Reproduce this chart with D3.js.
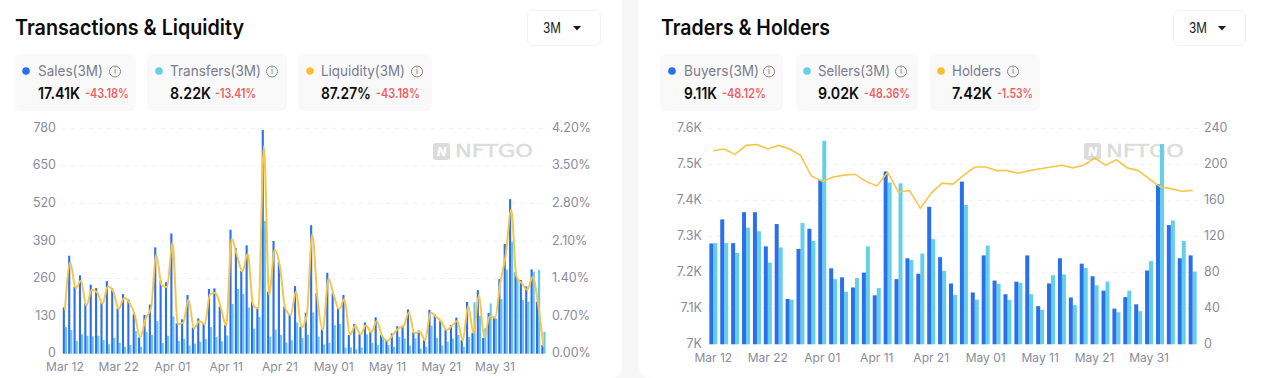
<!DOCTYPE html>
<html>
<head>
<meta charset="utf-8">
<script src="https://cdn.jsdelivr.net/npm/d3@7"></script>
<style>
  html, body { margin: 0; padding: 0; background: #fff; overflow: hidden; }
  text { font-family: Inter, "Noto Sans", sans-serif; }
</style>
</head>
<body>
<div id="chart"></div>
<script>
// Chart values
let dailyLabels = [];
let dayNames = ["Mar 12","Mar 22","Apr 01","Apr 11","Apr 21","May 01","May 11","May 21","May 31"];

let sales = [160,339,232,271,174,239,227,176,251,226,157,206,188,137,56,134,170,368,253,247,416,105,119,203,90,122,105,224,226,163,99,429,365,286,375,180,159,774,215,390,318,163,134,234,93,142,445,210,84,280,209,157,203,65,103,68,108,76,126,65,47,70,95,97,153,74,80,47,152,136,113,84,99,125,47,179,73,220,55,141,128,258,380,535,282,255,233,292,180,30];
let transfers = [92,82,44,67,62,60,62,47,33,55,38,24,30,78,24,75,65,113,37,62,129,44,51,28,35,42,51,92,58,43,63,172,224,207,160,87,127,459,59,83,65,39,47,108,54,66,143,59,32,38,99,103,21,22,15,21,67,38,30,53,30,24,58,53,28,53,18,24,97,55,28,42,53,65,24,58,178,130,88,174,122,189,291,388,261,186,180,284,290,76];
let liquidity = [0.81,1.70,1.22,1.36,0.89,1.19,1.14,0.93,1.25,1.16,0.83,1.04,0.95,0.72,0.30,0.65,0.84,1.84,1.28,1.24,2.07,0.55,0.58,1.01,0.47,0.61,0.55,1.11,1.13,0.86,0.52,2.14,1.84,1.53,1.86,0.91,0.84,3.86,1.09,1.94,1.62,0.84,0.72,1.16,0.49,0.72,2.22,1.00,0.44,1.40,1.09,0.83,1.02,0.35,0.52,0.36,0.53,0.40,0.61,0.33,0.24,0.35,0.47,0.52,0.77,0.38,0.41,0.25,0.77,0.69,0.60,0.44,0.52,0.61,0.24,0.89,0.38,1.09,0.30,0.70,0.67,1.34,1.84,2.68,1.43,1.31,1.19,1.43,0.94,0.13];

let buyers = [7280,7347,7281,7367,7367,7272,7334,7126,7265,7321,7457,7211,7186,7158,7199,7136,7480,7181,7239,7196,7382,7242,7169,7452,7144,7247,7177,7139,7174,7247,7106,7169,7239,7130,7224,7189,7149,7099,7131,7111,7205,7444,7331,7239,7247];
let sellers = [7281,7281,7254,7324,7314,7227,7269,7124,7337,7287,7565,7181,7146,7184,7272,7156,7449,7447,7234,7252,7292,7204,7137,7387,7124,7274,7168,7123,7171,7139,7096,7192,7194,7109,7212,7164,7174,7089,7149,7092,7231,7556,7344,7287,7202];
let holders = [215,217,211,221,222,217,221,217,210,187,181,186,188,189,181,176,191,169,171,151,168,179,178,188,197,197,193,193,190,193,195,197,199,196,199,207,199,205,196,193,184,175,173,170,171];

let leftTicks = [0,130,260,390,520,650,780];
let liquidityTicks = [0,0.7,1.4,2.1,2.8,3.5,4.2];
let traderTicks = [7000,7100,7200,7300,7400,7500,7600];
let holderTicks = [0,40,80,120,160,200,240];

let blue = "#2a6fec", cyan = "#63d0e8", yellow = "#f5c64a";

let svg = d3.select("#chart").append("svg")
    .attr("width", 1265)
    .attr("height", 378)
    .style("display", "block");

// grey gutter between the two cards
svg.append("path")
    .attr("d", "M622,0H639V366Q639,378 651,378H610Q622,378 622,366Z")
    .attr("fill", "#f7f7f7");

// text with a forced width, the reference font is not installed
function label(x, y, str, width, size, weight, color, anchor) {
    let t = svg.append("text")
        .attr("x", x)
        .attr("y", y)
        .attr("dy", "0.35em")
        .attr("font-size", size)
        .attr("font-weight", weight)
        .attr("fill", color)
        .attr("text-anchor", anchor || "start")
        .text(str);
    if (width) t.attr("textLength", width).attr("lengthAdjust", "spacingAndGlyphs");
    return t;
}

function infoIcon(x, y) {
    svg.append("circle").attr("cx", x).attr("cy", y).attr("r", 5.5)
        .attr("fill", "none").attr("stroke", "#85868f").attr("stroke-width", 1);
    label(x, y, "i", 0, 8, 500, "#85868f", "middle");
}

function chip(c) {
    svg.append("rect").attr("x", c.x0).attr("y", 54).attr("width", c.x1 - c.x0).attr("height", 57)
        .attr("rx", 6).attr("fill", "#f9f9f9");
    svg.append("circle").attr("cx", c.dot).attr("cy", 71).attr("r", 3.8).attr("fill", c.color);
    label(c.text, 71, c.name, c.nameW, 14.5, 400, "#7b7c8e");
    infoIcon(c.icon, 71.5);
    label(c.text, 93, c.value, c.valueW, 16, 600, "#0d0d0d");
    label(c.pct, 94, c.change, c.pctW, 12.5, 600, "#ee5f63");
}

function dropdown(x0, x1, textX, arrowX) {
    svg.append("rect").attr("x", x0 + 0.5).attr("y", 10.5).attr("width", x1 - x0).attr("height", 35)
        .attr("rx", 6).attr("fill", "#fff").attr("stroke", "#f3f3f3");
    label(textX, 28, "3M", 18, 14, 400, "#1a1a1a");
    svg.append("path")
        .attr("d", d3.line()([[arrowX - 4, 26], [arrowX + 4, 26], [arrowX, 30.5]]) + "Z")
        .attr("fill", "#1a1a1a");
}

function watermark(x) {
    svg.append("rect").attr("x", x).attr("y", 143).attr("width", 17).attr("height", 17)
        .attr("rx", 3).attr("fill", "#dcdcdc");
    label(x + 8.5, 151.5, "N", 0, 12, 800, "#fff", "middle").attr("font-style", "italic");
    label(x + 22, 151.5, "NFTGO", 78, 17, 400, "#dcdcdc")
        .style("font-family", "'DejaVu Sans'")
        .attr("stroke", "#dcdcdc").attr("stroke-width", 0.4);
}

// axes and gridlines are the same for both charts
function drawAxes(x, yLeft, yRight, o) {
    let xAxis = d3.axisBottom(x)
        .tickValues(dayNames)
        .tickSize(0)
        .tickPadding(0);
    let gx = svg.append("g")
        .attr("transform", "translate(0," + o.labelY + ")")
        .call(xAxis);
    gx.select(".domain").remove();
    gx.selectAll("text").attr("font-size", 12).attr("fill", "#8a8b9c").attr("dy", "0.35em")
        .style("font-family", "Inter");

    svg.append("g").selectAll("line")
        .data(o.leftTicks.slice(1))
        .enter()
        .append("line")
            .attr("x1", o.gridX0)
            .attr("x2", o.gridX1)
            .attr("y1", function(d){return yLeft(d)})
            .attr("y2", function(d){return yLeft(d)})
            .attr("stroke", "#f1f1f3")
            .attr("stroke-dasharray", "4,5");

    let gl = svg.append("g")
        .attr("transform", "translate(" + o.leftAxisX + ",0)")
        .call(d3.axisLeft(yLeft).tickValues(o.leftTicks).tickSize(0).tickPadding(0).tickFormat(o.leftFormat));
    let gr = svg.append("g")
        .attr("transform", "translate(" + o.rightAxisX + ",0)")
        .call(d3.axisRight(yRight).tickValues(o.rightTicks).tickSize(0).tickPadding(0).tickFormat(o.rightFormat));
    gl.select(".domain").remove();
    gr.select(".domain").remove();
    gl.selectAll("text").attr("font-size", 12.5).attr("fill", "#8a8b9c").attr("dy", "0.25em");
    gr.selectAll("text").attr("font-size", 12.5).attr("fill", "#8a8b9c").attr("dy", "0.25em");
}

// Left chart: one band per day, 90 days
let dayCount = sales.length;
for (let i = 0; i < dayCount; i++) {
    dailyLabels.push(i % 10 === 0 ? dayNames[i / 10] : "d" + i);
}
let x1 = d3.scaleBand().domain(dailyLabels).range([62.2, 546.1]);
let y1 = d3.scaleLinear().domain([0, 780]).range([353.7, 128.3]);
let y1r = d3.scaleLinear().domain([0, 4.2]).range([353.7, 128.3]);

label(15, 28, "Transactions & Liquidity", 229, 21, 600, "#0b0b0b");
dropdown(527, 600, 543, 577);
chip({x0:15, x1:136, dot:26, color:blue, text:38, name:"Sales(3M)", nameW:65, icon:115, value:"17.41K", valueW:42, pct:85, change:"-43.18%", pctW:44});
chip({x0:147, x1:287, dot:159, color:cyan, text:170, name:"Transfers(3M)", nameW:91, icon:272, value:"8.22K", valueW:41, pct:215, change:"-13.41%", pctW:41});
chip({x0:298, x1:432, dot:310, color:"#f8c02f", text:321, name:"Liquidity(3M)", nameW:84, icon:417, value:"87.27%", valueW:50, pct:376, change:"-43.18%", pctW:44});

drawAxes(x1, y1, y1r, {
    labelY: 367, gridX0: 62, gridX1: 546, leftAxisX: 56, rightAxisX: 552,
    leftTicks: leftTicks, rightTicks: liquidityTicks,
    leftFormat: d3.format("d"),
    rightFormat: function(d){return d.toFixed(2) + "%"}
});
watermark(433);

let w1 = 2.1;
svg.append("g").selectAll("rect")
    .data(transfers)
    .enter()
    .append("rect")
        .attr("x", function(d, i){return x1(dailyLabels[i]) + x1.bandwidth() / 2})
        .attr("y", function(d){return y1(d)})
        .attr("width", w1)
        .attr("height", function(d){return y1(0) - y1(d)})
        .attr("fill", "#62c8ef");
svg.append("g").selectAll("rect")
    .data(sales)
    .enter()
    .append("rect")
        .attr("x", function(d, i){return x1(dailyLabels[i]) + x1.bandwidth() / 2 - w1})
        .attr("y", function(d){return y1(d)})
        .attr("width", w1)
        .attr("height", function(d){return y1(0) - y1(d)})
        .attr("fill", blue);
svg.append("path")
    .datum(liquidity)
    .attr("fill", "none")
    .attr("stroke", yellow)
    .attr("stroke-width", 2)
    .attr("d", d3.line()
        .x(function(d, i){return x1(dailyLabels[i]) + x1.bandwidth() / 2})
        .y(function(d){return y1r(d)})
        .curve(d3.curveMonotoneX));

// Right chart: one band every two days
let groupLabels = buyers.map(function(d, i){return i % 5 === 0 ? dayNames[i / 5] : "g" + i});
let x2 = d3.scaleBand().domain(groupLabels).range([707.9, 1198.1]);
let y2 = d3.scaleLinear().domain([7000, 7600]).range([344.3, 128.3]);
let y2r = d3.scaleLinear().domain([0, 240]).range([344.3, 128.3]);

label(661, 28, "Traders & Holders", 169, 21, 600, "#0b0b0b");
dropdown(1173, 1245, 1189, 1222);
chip({x0:660, x1:783, dot:672, color:blue, text:684, name:"Buyers(3M)", nameW:75, icon:769, value:"9.11K", valueW:33, pct:722, change:"-48.12%", pctW:44});
chip({x0:796, x1:918, dot:807, color:cyan, text:818, name:"Sellers(3M)", nameW:72, icon:901, value:"9.02K", valueW:41, pct:864, change:"-48.36%", pctW:46});
chip({x0:930, x1:1040, dot:941, color:"#f8c02f", text:952, name:"Holders", nameW:49, icon:1013, value:"7.42K", valueW:40, pct:997, change:"-1.53%", pctW:36});

drawAxes(x2, y2, y2r, {
    labelY: 358, gridX0: 708, gridX1: 1198, leftAxisX: 702, rightAxisX: 1204,
    leftTicks: traderTicks, rightTicks: holderTicks,
    leftFormat: function(d){return d === 7000 ? "7K" : (d / 1000).toFixed(1) + "K"},
    rightFormat: d3.format("d")
});
watermark(1084);

let w2 = 4;
svg.append("g").selectAll("rect")
    .data(sellers)
    .enter()
    .append("rect")
        .attr("x", function(d, i){return x2(groupLabels[i]) + x2.bandwidth() / 2})
        .attr("y", function(d){return y2(d)})
        .attr("width", w2)
        .attr("height", function(d){return y2(7000) - y2(d)})
        .attr("fill", cyan);
svg.append("g").selectAll("rect")
    .data(buyers)
    .enter()
    .append("rect")
        .attr("x", function(d, i){return x2(groupLabels[i]) + x2.bandwidth() / 2 - w2})
        .attr("y", function(d){return y2(d)})
        .attr("width", w2)
        .attr("height", function(d){return y2(7000) - y2(d)})
        .attr("fill", blue);
svg.append("path")
    .datum(holders)
    .attr("fill", "none")
    .attr("stroke", yellow)
    .attr("stroke-width", 1.6)
    .attr("d", d3.line()
        .x(function(d, i){return x2(groupLabels[i]) + x2.bandwidth() / 2})
        .y(function(d){return y2r(d)}));
</script>
</body>
</html>
